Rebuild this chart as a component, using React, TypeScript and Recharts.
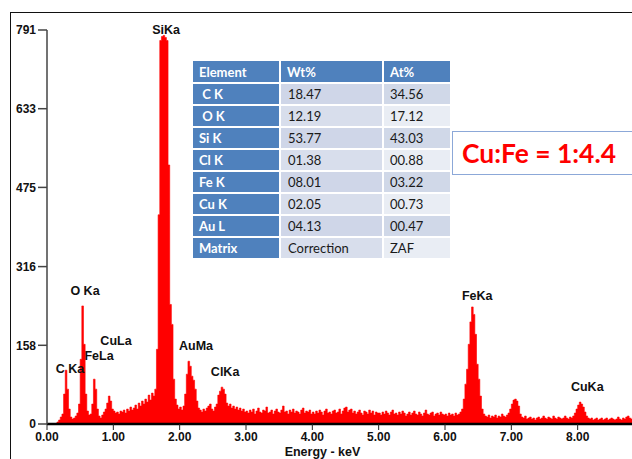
import React from "react";
import { AreaChart, Area, XAxis, YAxis, ReferenceDot } from "recharts";

// EDS spectrum, one value per 0.025 keV channel (counts), one row per keV
const channelWidth = 0.025;
const counts = [
  0, 0, 0, 0, 0, 0, 4, 8, 14, 20, 60, 108, 70, 30, 14, 10, 12, 16, 22, 40, 130, 237, 160, 60, 26, 18, 20, 40, 90, 70, 30, 16, 12, 18, 24, 30, 42, 56, 46, 30,
  26, 22, 24, 20, 26, 24, 28, 22, 30, 26, 34, 28, 32, 38, 30, 42, 36, 46, 40, 50, 44, 58, 48, 62, 56, 70, 150, 420, 770, 778, 780, 776, 770, 520, 240, 200, 90, 50, 38, 30,
  34, 28, 36, 60, 100, 126, 116, 96, 88, 70, 46, 32, 28, 24, 30, 26, 32, 36, 40, 30, 26, 34, 40, 58, 66, 74, 70, 60, 42, 36, 40, 32, 36, 30, 34, 28, 32, 26, 30, 24,
  26, 22, 28, 24, 30, 20, 26, 32, 24, 22, 28, 26, 34, 22, 24, 28, 20, 26, 30, 24, 22, 28, 36, 24, 26, 20, 28, 24, 30, 22, 26, 24, 20, 28, 32, 22, 26, 24, 28, 20,
  24, 20, 26, 22, 28, 24, 18, 26, 30, 22, 24, 20, 26, 28, 22, 24, 30, 20, 26, 32, 34, 24, 28, 30, 22, 26, 20, 24, 28, 22, 18, 26, 24, 20, 28, 22, 26, 18, 24, 22,
  22, 18, 24, 20, 26, 22, 18, 24, 28, 20, 22, 18, 24, 20, 26, 22, 16, 20, 24, 18, 22, 26, 20, 18, 24, 20, 16, 22, 28, 20, 18, 22, 24, 16, 20, 22, 18, 24, 20, 18,
  20, 16, 22, 18, 20, 16, 22, 18, 20, 24, 30, 50, 80, 110, 160, 205, 235, 220, 180, 120, 90, 56, 30, 20, 16, 14, 18, 12, 16, 14, 18, 12, 16, 14, 20, 16, 14, 18, 22, 30,
  40, 48, 50, 46, 36, 20, 14, 12, 16, 10, 12, 14, 10, 12, 8, 12, 14, 10, 12, 16, 12, 10, 14, 12, 10, 16, 12, 10, 14, 12, 10, 12, 16, 12, 10, 14, 12, 16, 22, 30,
  38, 44, 40, 34, 24, 16, 12, 10, 12, 8, 10, 12, 8, 10, 12, 8, 10, 12, 8, 10, 12, 10, 8, 10, 14, 10, 8, 12, 10, 14, 16, 12, 10, 14, 12, 10, 12, 14, 10, 12,
];

const xTicks = [0, 1, 2, 3, 4, 5, 6, 7, 8, 9];
const yTicks = [0, 158, 316, 475, 633, 791];

// peak names, placed at (keV, counts)
const peakLabels = [
  { name: "SiKa", keV: 1.795, counts: 791 },
  { name: "O Ka", keV: 0.573, counts: 267 },
  { name: "CuLa", keV: 1.04, counts: 167 },
  { name: "FeLa", keV: 0.784, counts: 137 },
  { name: "C Ka", keV: 0.347, counts: 110 },
  { name: "AuMa", keV: 2.247, counts: 157 },
  { name: "ClKa", keV: 2.685, counts: 104 },
  { name: "FeKa", keV: 6.486, counts: 257 },
  { name: "CuKa", keV: 8.145, counts: 74 },
];

const tableHeader = ["Element", "Wt%", "At%"];
const elements = [" C K", " O K", "Si K", "Cl K", "Fe K", "Cu K", "Au L", "Matrix"];
const wtPct = ["18.47", "12.19", "53.77", "01.38", "08.01", "02.05", "04.13", "Correction"];
const atPct = ["34.56", "17.12", "43.03", "00.88", "03.22", "00.73", "00.47", "ZAF"];

const ratioText = "Cu:Fe = 1:4.4";

const spectrum = counts.map((c, i) => ({ keV: +(i * channelWidth).toFixed(3), counts: c }));

const axisFont = "'Liberation Sans', Arial, sans-serif";
const tableFont = "Lato, 'Open Sans', sans-serif";
const blue = "#4F81BD";

const PeakLabel = (props: any) => (
  <text
    x={props.cx}
    y={props.cy}
    textAnchor="middle"
    dominantBaseline="central"
    fontFamily={axisFont}
    fontWeight={700}
    fontSize={12.5}
    fill="#111"
  >
    {props.name}
  </text>
);

function CompositionTable() {
  const cell = (bg: string, color: string, weight: number, pad: number): React.CSSProperties => ({
    background: bg,
    color,
    fontWeight: weight,
    paddingLeft: pad,
    display: "flex",
    alignItems: "center",
    whiteSpace: "pre",
  });
  return (
    <div
      style={{
        position: "absolute",
        left: 193,
        top: 61,
        display: "grid",
        gridTemplateColumns: "86px 101px 66px",
        gridTemplateRows: "21px repeat(8, 20px)",
        columnGap: 2,
        rowGap: 2,
        fontFamily: tableFont,
        fontSize: 13,
      }}
    >
      {tableHeader.map((h) => (
        <div key={h} style={cell(blue, "#fff", 700, 6)}>
          {h}
        </div>
      ))}
      {elements.map((el, i) => {
        const odd = i % 2 === 0;
        return (
          <React.Fragment key={el}>
            <div style={cell(blue, "#fff", 700, 6)}>{el}</div>
            <div style={cell(odd ? "#CFD6E8" : "#D8DEEC", "#1a1a1a", 400, 7)}>{wtPct[i]}</div>
            <div style={cell(odd ? "#D0D8E8" : "#E9EDF4", "#1a1a1a", 400, 6)}>{atPct[i]}</div>
          </React.Fragment>
        );
      })}
    </div>
  );
}

export default function App() {
  return (
    <div
      style={{
        position: "absolute",
        left: 0,
        top: 0,
        width: 632,
        height: 459,
        overflow: "hidden",
        background: "#fff",
      }}
    >
      {/* outer frame */}
      <div
        style={{
          position: "absolute",
          left: 10,
          top: 12,
          width: 700,
          height: 500,
          borderLeft: "1.5px solid #111",
          borderTop: "1.5px solid #111",
        }}
      />
      <div style={{ position: "absolute", left: 0, top: 0 }}>
        <AreaChart
          width={660}
          height={459}
          data={spectrum}
          margin={{ top: 30, right: 16, bottom: 0, left: 0 }}
        >
          <Area
            dataKey="counts"
            type="stepAfter"
            stroke="#ff0000"
            strokeWidth={0.6}
            fill="#ff0000"
            fillOpacity={1}
            dot={false}
            activeDot={false}
            isAnimationActive={false}
          />
          <XAxis
            dataKey="keV"
            type="number"
            domain={[0, 9]}
            ticks={xTicks}
            tickFormatter={(v: number) => v.toFixed(2)}
            height={35}
            tickSize={6}
            axisLine={{ stroke: "#000", strokeWidth: 2.5 }}
            tickLine={{ stroke: "#222" }}
            tick={{ fill: "#111", fontSize: 12, fontWeight: 700, fontFamily: axisFont }}
            interval={0}
            allowDataOverflow
            label={{
              value: "Energy - keV",
              position: "insideBottom",
              offset: 3,
              dx: -23,
              fill: "#111",
              fontSize: 12.5,
              fontWeight: 700,
              fontFamily: axisFont,
            }}
          />
          <YAxis
            type="number"
            domain={[0, 791]}
            ticks={yTicks}
            width={47}
            tickSize={9}
            axisLine={{ stroke: "#444", strokeWidth: 1.5 }}
            tickLine={{ stroke: "#444", strokeWidth: 1.5 }}
            tick={{ fill: "#111", fontSize: 12, fontWeight: 700, fontFamily: axisFont }}
            interval={0}
            allowDataOverflow
          />
          {peakLabels.map((p) => (
            <ReferenceDot
              key={p.name}
              x={p.keV}
              y={p.counts}
              r={0}
              ifOverflow="visible"
              shape={(props: any) => <PeakLabel {...props} name={p.name} />}
            />
          ))}
        </AreaChart>
      </div>
      <CompositionTable />
      {/* ratio callout */}
      <svg style={{ position: "absolute", left: 0, top: 0 }} width={632} height={459}>
        <rect x={452.5} y={131.5} width={200} height={43} fill="#fff" stroke="#8CA8D8" strokeWidth={1} />
        <text
          x={462}
          y={163}
          fill="#ff0000"
          fontFamily={tableFont}
          fontWeight={700}
          fontSize={27}
          textLength={154}
          lengthAdjust="spacingAndGlyphs"
        >
          {ratioText}
        </text>
      </svg>
    </div>
  );
}
